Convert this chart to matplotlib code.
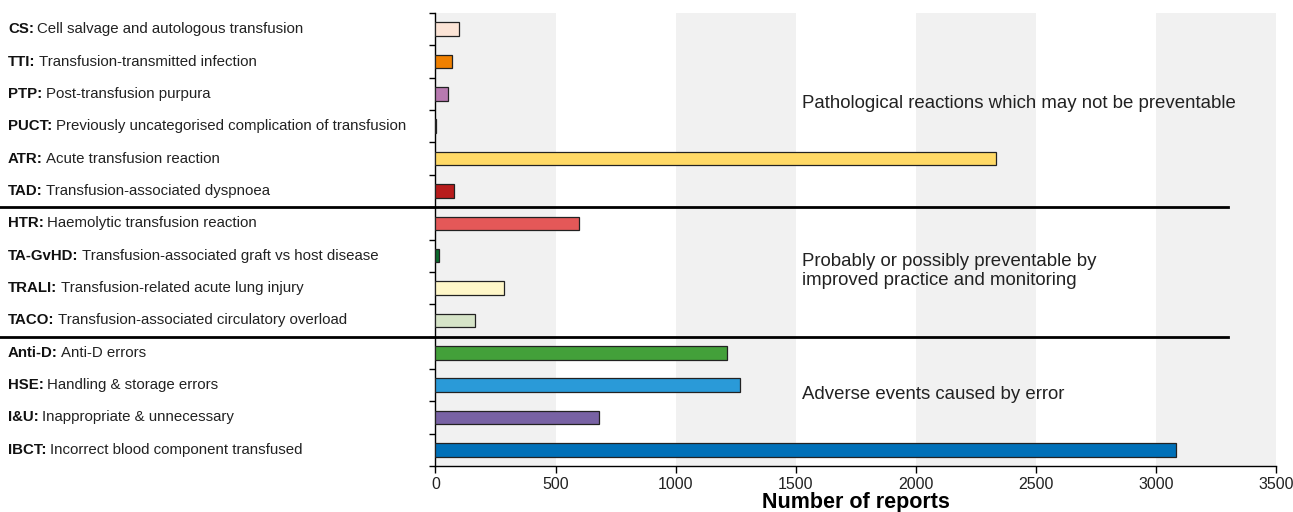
import matplotlib
matplotlib.use("Agg")
import matplotlib.pyplot as plt
import matplotlib.transforms as mtransforms

plt.rcParams['font.family'] = ['Liberation Sans', 'DejaVu Sans']

# categories, top to bottom
abbrevs = ["CS", "TTI", "PTP", "PUCT", "ATR", "TAD", "HTR", "TA-GvHD",
           "TRALI", "TACO", "Anti-D", "HSE", "I&U", "IBCT"]
descriptions = ["Cell salvage and autologous transfusion",
                "Transfusion-transmitted infection",
                "Post-transfusion purpura",
                "Previously uncategorised complication of transfusion",
                "Acute transfusion reaction",
                "Transfusion-associated dyspnoea",
                "Haemolytic transfusion reaction",
                "Transfusion-associated graft vs host disease",
                "Transfusion-related acute lung injury",
                "Transfusion-associated circulatory overload",
                "Anti-D errors",
                "Handling & storage errors",
                "Inappropriate & unnecessary",
                "Incorrect blood component transfused"]
reports = [99, 70, 53, 4, 2333, 77, 597, 14, 285, 166, 1213, 1269, 681, 3085]
colors = ["#fce4d6", "#f08000", "#b87ab0", "#111111", "#ffd966", "#b81c1c",
          "#e45858", "#0b6b2c", "#fff7c8", "#d6e4c8", "#43a03a", "#2a9ad8",
          "#7862a4", "#0070b8"]

group_titles = ["Pathological reactions which may not be preventable",
                "Probably or possibly preventable by\nimproved practice and monitoring",
                "Adverse events caused by error"]
group_title_rows = [2.3, 7.48, 11.3]
separator_rows = [5.5, 9.5]

xticks = [0, 500, 1000, 1500, 2000, 2500, 3000, 3500]

fig = plt.figure(figsize=(12.93, 5.12), dpi=100)
ax_left, ax_bottom, ax_w, ax_h = 0.3368, 0.0898, 0.6501, 0.8848
ax = fig.add_axes([ax_left, ax_bottom, ax_w, ax_h])

# alternating grey bands
for x0 in xticks[:-1:2]:
    ax.axvspan(x0, x0 + 500, color="#f1f1f1", zorder=0, lw=0)

ypos = list(range(len(abbrevs)))
ax.barh(ypos, reports, height=0.42, color=colors, edgecolor="#222222",
        linewidth=0.9, zorder=3)

ax.set_xlim(0, 3500)
ax.set_ylim(len(abbrevs) - 0.5, -0.5)
ax.set_xticks(xticks)
ax.set_yticks([i - 0.5 for i in range(len(abbrevs) + 1)])
ax.set_yticklabels([])
ax.tick_params(axis="x", labelsize=11.5, length=5, direction="out", width=1,
               pad=3, labelcolor="#222222")
ax.tick_params(axis="y", length=4, direction="out", width=1)
for side in ["top", "right"]:
    ax.spines[side].set_visible(False)
ax.spines["left"].set_linewidth(1)
ax.spines["bottom"].set_linewidth(1)
ax.set_xlabel("Number of reports", fontsize=15.5, fontweight="bold", labelpad=0)

# category labels: bold abbreviation + regular description
lab_trans = mtransforms.blended_transform_factory(fig.transFigure, ax.transData)
for i, (ab, desc) in enumerate(zip(abbrevs, descriptions)):
    t = ax.text(0.0062, i, ab + ":", transform=lab_trans, fontsize=10.8,
                fontweight="bold", va="center", ha="left", color="#111111")
    ax.annotate(desc, xy=(1, 0), xycoords=t, xytext=(2.4, 0),
                textcoords="offset points", va="bottom", ha="left",
                fontsize=10.8, color="#222222")

# group separators running into the label area
sep_trans = mtransforms.blended_transform_factory(ax.transAxes, ax.transData)
for r in separator_rows:
    ax.plot([-ax_left / ax_w, 3300 / 3500], [r, r], color="black", lw=2,
            transform=sep_trans, clip_on=False, zorder=5)

for title, r in zip(group_titles, group_title_rows):
    ax.text(1527, r, title, fontsize=13.4, va="center", ha="left",
            color="#222222", linespacing=1.12, zorder=4)

fig.savefig("out.png", dpi=100)
